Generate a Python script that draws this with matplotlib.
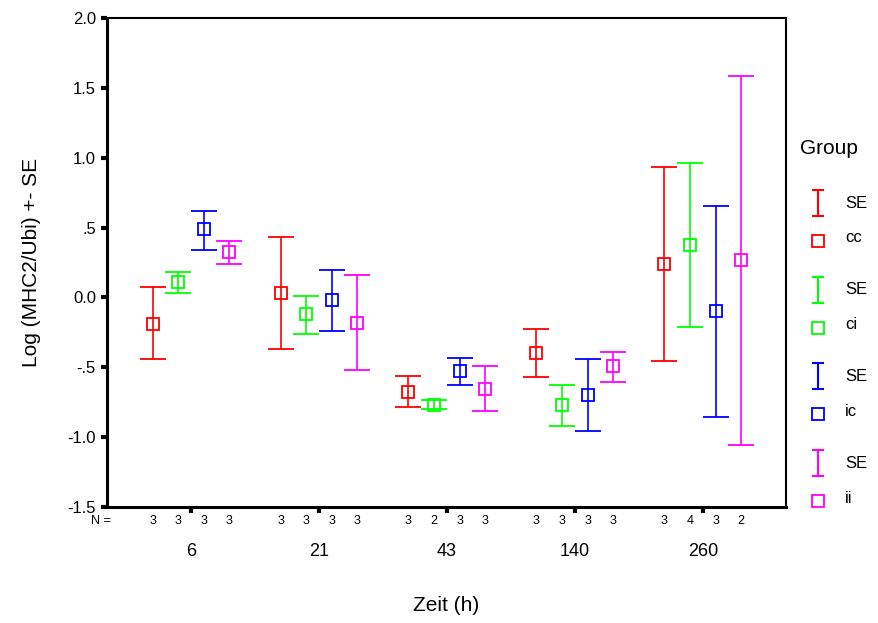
import numpy as np
import matplotlib.pyplot as plt

# category labels (hours) and groups
zeit = ['6', '21', '43', '140', '260']
groups = ['cc', 'ci', 'ic', 'ii']
colors = ['#ff0000', '#00ff00', '#0000ff', '#ff00ff']

# means and upper / lower ends of the +- SE bars
cc_mean = [-0.19, 0.03, -0.675, -0.395, 0.24]
cc_hi = [0.074, 0.435, -0.565, -0.223, 0.937]
cc_lo = [-0.44, -0.372, -0.784, -0.566, -0.456]

ci_mean = [0.108, -0.122, -0.772, -0.772, 0.376]
ci_hi = [0.18, 0.007, -0.736, -0.626, 0.962]
ci_lo = [0.031, -0.259, -0.796, -0.921, -0.211]

ic_mean = [0.487, -0.02, -0.527, -0.70, -0.098]
ic_hi = [0.62, 0.194, -0.432, -0.444, 0.657]
ic_lo = [0.343, -0.237, -0.626, -0.955, -0.859]

ii_mean = [0.324, -0.185, -0.652, -0.492, 0.266]
ii_hi = [0.405, 0.158, -0.492, -0.393, 1.585]
ii_lo = [0.242, -0.518, -0.81, -0.602, -1.055]

# group sizes (N =)
cc_n = [3, 3, 3, 3, 3]
ci_n = [3, 3, 2, 3, 4]
ic_n = [3, 3, 3, 3, 3]
ii_n = [3, 3, 3, 3, 2]

yticks = [-1.5, -1.0, -0.5, 0.0, 0.5, 1.0, 1.5, 2.0]
ytick_labels = ['-1.5', '-1.0', '-.5', '0.0', '.5', '1.0', '1.5', '2.0']

means = [cc_mean, ci_mean, ic_mean, ii_mean]
his = [cc_hi, ci_hi, ic_hi, ii_hi]
los = [cc_lo, ci_lo, ic_lo, ii_lo]
ns = [cc_n, ci_n, ic_n, ii_n]
offsets = [-0.3, -0.1, 0.1, 0.3]

plt.rcParams['font.family'] = ['Liberation Sans', 'DejaVu Sans']

fig = plt.figure(figsize=(8.79, 6.23), dpi=100)
ax = fig.add_axes([107 / 879, 116 / 623, 679 / 879, 489 / 623])

x = np.arange(len(zeit))
for i in range(4):
    m = np.array(means[i])
    hi = np.array(his[i])
    lo = np.array(los[i])
    xs = x + offsets[i]
    ax.errorbar(xs, m, yerr=[m - lo, hi - m], fmt='s', color=colors[i],
                mfc='none', mec=colors[i], ms=9, mew=1.3, elinewidth=1.2,
                capsize=9.5, capthick=1.2)
    for xx, nn in zip(xs, ns[i]):
        ax.text(xx, -0.029, str(nn), transform=ax.get_xaxis_transform(),
                ha='center', va='center', fontsize=9)

ax.text(-0.009, -0.029, 'N =', transform=ax.transAxes,
        ha='center', va='center', fontsize=9)

ax.set_xlim(-0.656, 4.65)
ax.set_ylim(-1.5, 2.0)
ax.set_yticks(yticks)
ax.set_yticklabels(ytick_labels, fontsize=12)
ax.set_xticks(x)
ax.set_xticklabels(zeit, fontsize=13)
ax.tick_params(axis='y', direction='out', length=4, width=3, pad=4)
ax.tick_params(axis='x', direction='out', length=4, width=3, pad=22)
for s in ['left', 'bottom']:
    ax.spines[s].set_linewidth(2.2)
for s in ['top', 'right']:
    ax.spines[s].set_linewidth(1.5)

ax.set_xlabel('Zeit (h)', fontsize=15, labelpad=26)
ax.set_ylabel('Log (MHC2/Ubi) +- SE', fontsize=15, labelpad=19)

# legend panel on the right
lg = fig.add_axes([790 / 879, 100 / 623, 89 / 879, 420 / 623])
lg.set_xlim(0, 89)
lg.set_ylim(520, 100)
lg.axis('off')
lg.text(10, 145, 'Group', fontsize=15, va='center', ha='left')
for i in range(4):
    y_se = 200 + 86.7 * i
    y_sq = 238 + 86.7 * i
    lg.errorbar([28], [y_se], yerr=[[13], [13]], fmt='none', ecolor=colors[i],
                elinewidth=1.5, capsize=4, capthick=1.5)
    lg.plot([28], [y_sq], 's', mfc='none', mec=colors[i], ms=8, mew=1.3)
    lg.text(55, y_se, 'SE', fontsize=12, va='center', ha='left')
    lg.text(55, y_sq - 3, groups[i], fontsize=12, va='center', ha='left')

fig.savefig('out.png', dpi=100)
